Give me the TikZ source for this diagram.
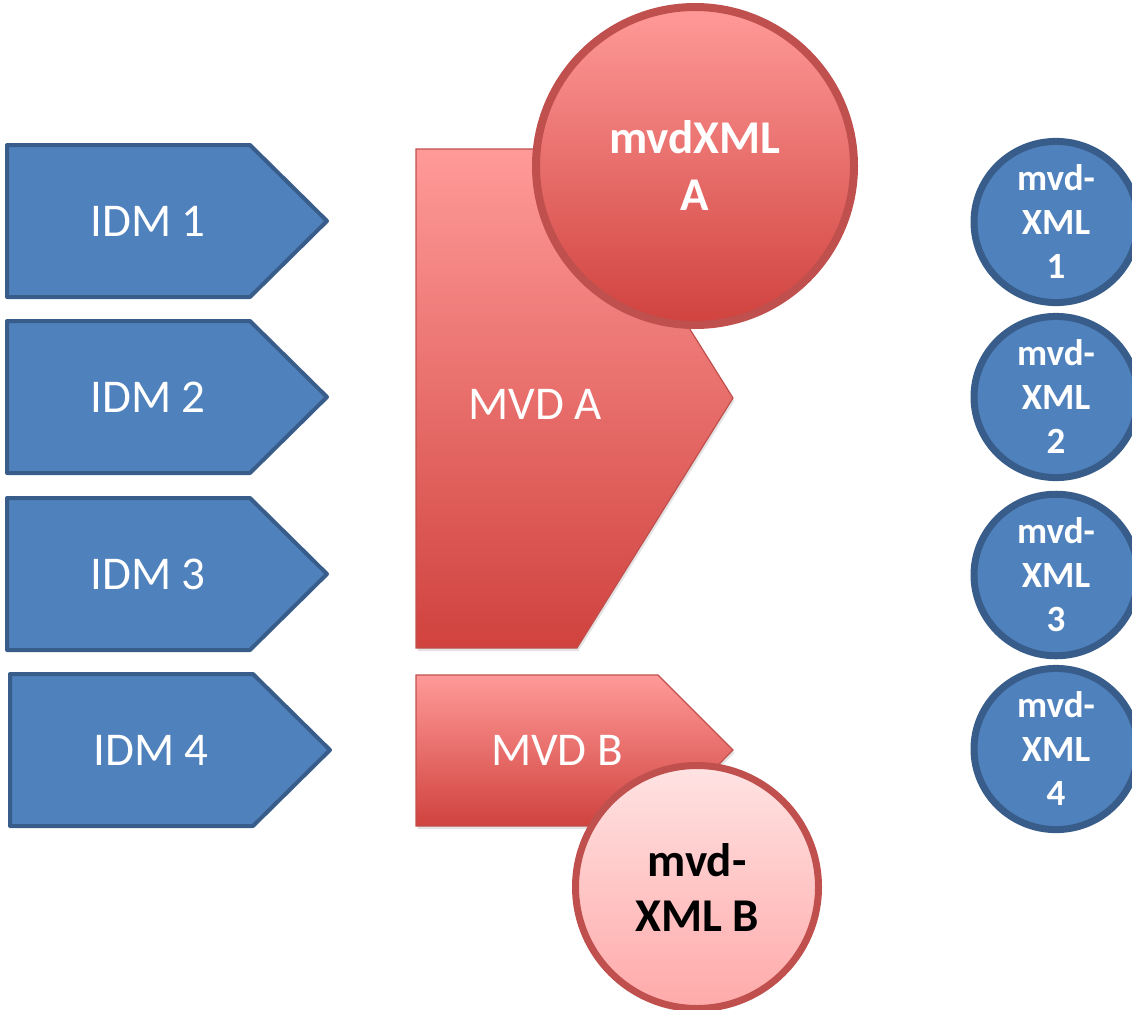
\documentclass[tikz,border=0pt]{standalone}
\usepackage{fontspec}
\setmainfont{Carlito}
\usetikzlibrary{shapes.geometric,shadows}
\definecolor{bluefill}{HTML}{4F81BD}
\definecolor{blueline}{HTML}{385D8A}
\definecolor{redline}{HTML}{C0504D}
\definecolor{redtop}{HTML}{FF9A98}
\definecolor{redbot}{HTML}{D0423E}
\definecolor{pinktop}{HTML}{FFE3E3}
\definecolor{pinkbot}{HTML}{FFA9A9}
\tikzset{
  softshadow/.style={drop shadow={opacity=0.22, shadow xshift=1.5pt, shadow yshift=-3pt}},
  idmshape/.style={draw=blueline, fill=bluefill, line width=4pt, line join=round},
  mvdshape/.style={draw=redline, line width=1.2pt, top color=redtop, bottom color=redbot, softshadow},
  lbl/.style={text=white, font=\fontsize{47}{56}\selectfont, inner sep=0pt},
  bluecirc/.style={ellipse, draw=blueline, line width=7pt, fill=bluefill, minimum width=164pt, minimum height=155pt, inner sep=0pt, align=center, text=white, font=\bfseries\fontsize{37}{44}\selectfont},
  bigcirc/.style={circle, draw=redline, line width=8pt, minimum size=318pt, inner sep=0pt, align=center, top color=redtop, bottom color=redbot, text=white, font=\bfseries\fontsize{47}{57}\selectfont, softshadow},
  smallcirc/.style={circle, draw=redline, line width=7pt, minimum size=243pt, inner sep=0pt, align=center, top color=pinktop, bottom color=pinkbot, text=black, font=\bfseries\fontsize{47}{55}\selectfont, softshadow}
}
\begin{document}
\begin{tikzpicture}[x=1pt,y=-1pt]
\useasboundingbox (0,0) rectangle (1132,1009);
\clip (0,0) rectangle (1132,1009);
% IDM arrows
\foreach \i/\yc/\xo in {1/221/0,2/397/0,3/574/0,4/750/3}{
  \path[idmshape] (7+\xo,\yc-76) -- (250+\xo,\yc-76) -- (327+\xo,\yc) -- (250+\xo,\yc+76) -- (7+\xo,\yc+76) -- cycle;
  \node[lbl] (idm\i) at (148+\xo,\yc) {IDM \i};
}
% MVD A
\path[mvdshape] (416,149) -- (577,149) -- (733,398) -- (577,648) -- (416,648) -- cycle;
\node[lbl] (mvda) at (535,404) {MVD A};
\node[bigcirc] (xmla) at (695,166) {mvdXML\\A};
% MVD B
\path[mvdshape] (416,675) -- (658,675) -- (733,750) -- (658,826) -- (416,826) -- cycle;
\node[lbl] (mvdb) at (557,750) {MVD B};
\node[smallcirc] (xmlb) at (697,887) {mvd-\\XML B};
% blue circles
\node[bluecirc] (x1) at (1056,222) {mvd-\\XML\\1};
\node[bluecirc] (x2) at (1056,397) {mvd-\\XML\\2};
\node[bluecirc] (x3) at (1056,575) {mvd-\\XML\\3};
\node[bluecirc] (x4) at (1056,749) {mvd-\\XML\\4};
\end{tikzpicture}
\end{document}
